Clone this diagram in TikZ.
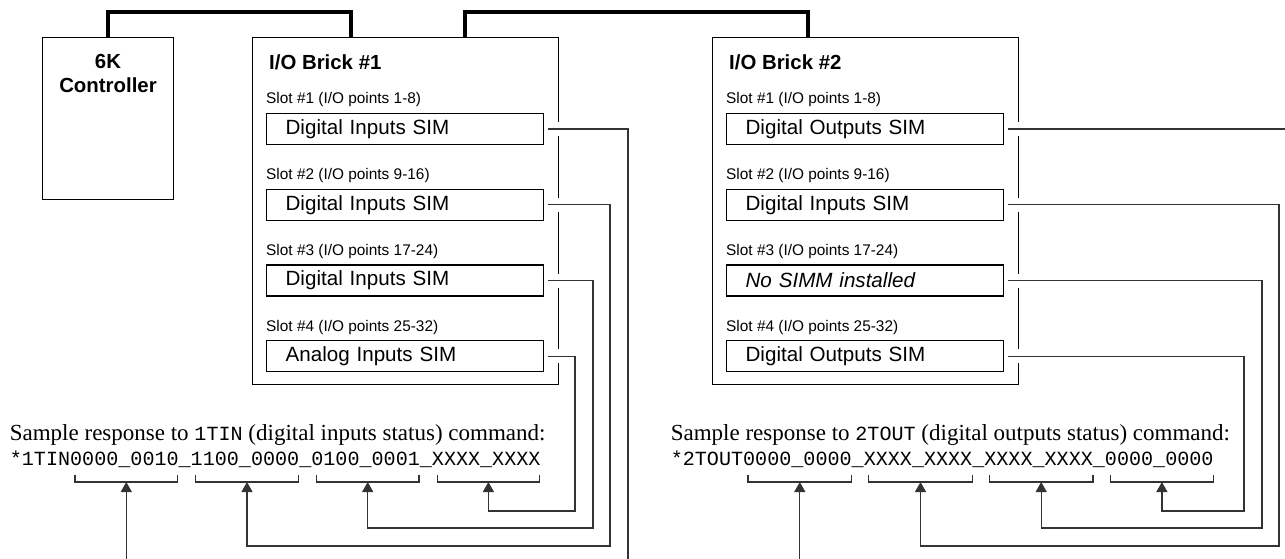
\documentclass[tikz,border=0pt]{standalone}
\usepackage{fontspec}
\setmainfont{Liberation Serif}
\setsansfont{Liberation Sans}
\setmonofont{Liberation Mono}
\usetikzlibrary{arrows.meta,calc}
\begin{document}
\begin{tikzpicture}[x=1pt,y=-1pt,
  box/.style={draw=black,line width=1.2pt,inner sep=0pt},
  brickbox/.style={box,line width=1.4pt,minimum width=306pt,minimum height=347pt,anchor=north west},
  simbox/.style={box,minimum width=277pt,minimum height=31pt,anchor=north west,
    inner xsep=19pt,inner ysep=0pt,text width=239pt,align=left,
    font=\sffamily\fontsize{20.6}{24}\selectfont},
  slotlbl/.style={anchor=west,inner sep=0pt,font=\sffamily\fontsize{15.4}{18}\selectfont},
  titlelbl/.style={anchor=west,inner sep=0pt,font=\sffamily\bfseries\fontsize{20.4}{24}\selectfont},
  bus/.style={draw=black,line width=3.3pt},
  conn/.style={draw=black!80,line width=1.3pt},
  arr/.style={conn,-{Triangle[width=11pt,length=10pt]}},
  brk/.style={draw=black!80,line width=1.2pt},
  gap/.style={draw=white,line width=4pt},
  serifline/.style={anchor=base west,inner sep=0pt,font=\rmfamily\fontsize{23}{28}\selectfont},
  monoline/.style={anchor=base west,inner sep=0pt,font=\ttfamily\fontsize{20.1}{24}\selectfont}
]
\useasboundingbox[fill=white] (0,0) rectangle (1285,559);

% controller
\node[box,minimum width=131pt,minimum height=162pt,anchor=north west] (ctrl) at (42,37) {};
\node[align=center,inner sep=0pt,font=\sffamily\bfseries\fontsize{20.4}{24}\selectfont] (ctrltxt) at (108,73) {6K\\Controller};

% bricks
\node[brickbox] (b1) at (252,37) {};
\node[brickbox] (b2) at (712,37) {};
\node[titlelbl] (t1) at (269,62) {I/O Brick \#1};
\node[titlelbl] (t2) at (729,62) {I/O Brick \#2};

% slot labels and SIM boxes, brick 1
\node[slotlbl] (l11) at (266,100) {Slot \#1 (I/O points 1-8)};
\node[slotlbl] (l12) at (266,175.7) {Slot \#2 (I/O points 9-16)};
\node[slotlbl] (l13) at (266,251.4) {Slot \#3 (I/O points 17-24)};
\node[slotlbl] (l14) at (266,327.1) {Slot \#4 (I/O points 25-32)};
\node[simbox] (a1) at (266,113) {Digital Inputs SIM};
\node[simbox] (a2) at (266,188.7) {Digital Inputs SIM};
\node[simbox] (a3) at (266,264.4) {Digital Inputs SIM};
\node[simbox] (a4) at (266,340.1) {Analog Inputs SIM};

% brick 2
\node[slotlbl] (l21) at (726,100) {Slot \#1 (I/O points 1-8)};
\node[slotlbl] (l22) at (726,175.7) {Slot \#2 (I/O points 9-16)};
\node[slotlbl] (l23) at (726,251.4) {Slot \#3 (I/O points 17-24)};
\node[slotlbl] (l24) at (726,327.1) {Slot \#4 (I/O points 25-32)};
\node[simbox] (c1) at (726,113) {Digital Outputs SIM};
\node[simbox] (c2) at (726,188.7) {Digital Inputs SIM};
\node[simbox] (c3) at (726,264.4) {\itshape No SIMM installed};
\node[simbox] (c4) at (726,340.1) {Digital Outputs SIM};

% bus
\coordinate (b1in) at (351,37);
\coordinate (b1out) at (465,37);
\coordinate (b2in) at (808,37);
\draw[bus] (ctrl.north) -- ++(0,-25) -| (b1in);
\draw[bus] (b1out) -- ++(0,-25) -| (b2in);

% gaps in brick borders
\foreach \n in {a1,a2,a3,a4} {\draw[gap] ($(\n.east)+(15,-7)$) -- ($(\n.east)+(15,7)$);}
\foreach \n in {c1,c2,c3,c4} {\draw[gap] ($(\n.east)+(14,-7)$) -- ($(\n.east)+(14,7)$);}

% sample response texts
\node[serifline] (s1) at (9.65,440) {Sample response to {\ttfamily\fontsize{20.1}{24}\selectfont 1TIN} (digital inputs status) command:};
\node[monoline] (m1) at (9.65,465) {*1TIN0000\_0010\_1100\_0000\_0100\_0001\_XXXX\_XXXX};
\node[serifline] (s2) at (670.6,440) {Sample response to {\ttfamily\fontsize{20.1}{24}\selectfont 2TOUT} (digital outputs status) command:};
\node[monoline] (m2) at (670.6,465) {*2TOUT0000\_0000\_XXXX\_XXXX\_XXXX\_XXXX\_0000\_0000};

% brackets, left
\draw[brk] (75,475) |- (177.6,482) -- (177.6,475);
\draw[brk] (195.7,475) |- (298.3,482) -- (298.3,475);
\draw[brk] (316.4,475) |- (419,482) -- (419,475);
\draw[brk] (437.1,475) |- (539.7,482) -- (539.7,475);
\coordinate (p1) at (126.3,482);
\coordinate (p2) at (247,482);
\coordinate (p3) at (367.7,482);
\coordinate (p4) at (488.4,482);
% brackets, right
\draw[brk] (748,475) |- (851.6,482) -- (851.6,475);
\draw[brk] (868.7,475) |- (972.3,482) -- (972.3,475);
\draw[brk] (989.4,475) |- (1093,482) -- (1093,475);
\draw[brk] (1110.1,475) |- (1213.7,482) -- (1213.7,475);
\coordinate (q1) at (799.8,482);
\coordinate (q2) at (920.5,482);
\coordinate (q3) at (1041.2,482);
\coordinate (q4) at (1161.9,482);

% connectors, brick 1
\coordinate (e1) at (628,559);
\coordinate (f1) at (126.3,559);
\draw[conn] ($(a1.east)+(4,0)$) -| (e1);
\draw[arr] ($(a2.east)+(4,0)$) -| (610,546) -| (p2);
\draw[arr] ($(a3.east)+(4,0)$) -| (593,528) -| (p3);
\draw[arr] ($(a4.east)+(4,0)$) -| (575,511) -| (p4);
\draw[arr] (f1) -- (p1);

% connectors, brick 2
\coordinate (e2) at (1285,0 |- c1.east);
\coordinate (f2) at (799.8,559);
\draw[conn] ($(c1.east)+(4,0)$) -- (e2);
\draw[arr] ($(c2.east)+(4,0)$) -| (1279,546) -| (q2);
\draw[arr] ($(c3.east)+(4,0)$) -| (1262,528) -| (q3);
\draw[arr] ($(c4.east)+(4,0)$) -| (1244,511) -| (q4);
\draw[arr] (f2) -- (q1);
\end{tikzpicture}
\end{document}
